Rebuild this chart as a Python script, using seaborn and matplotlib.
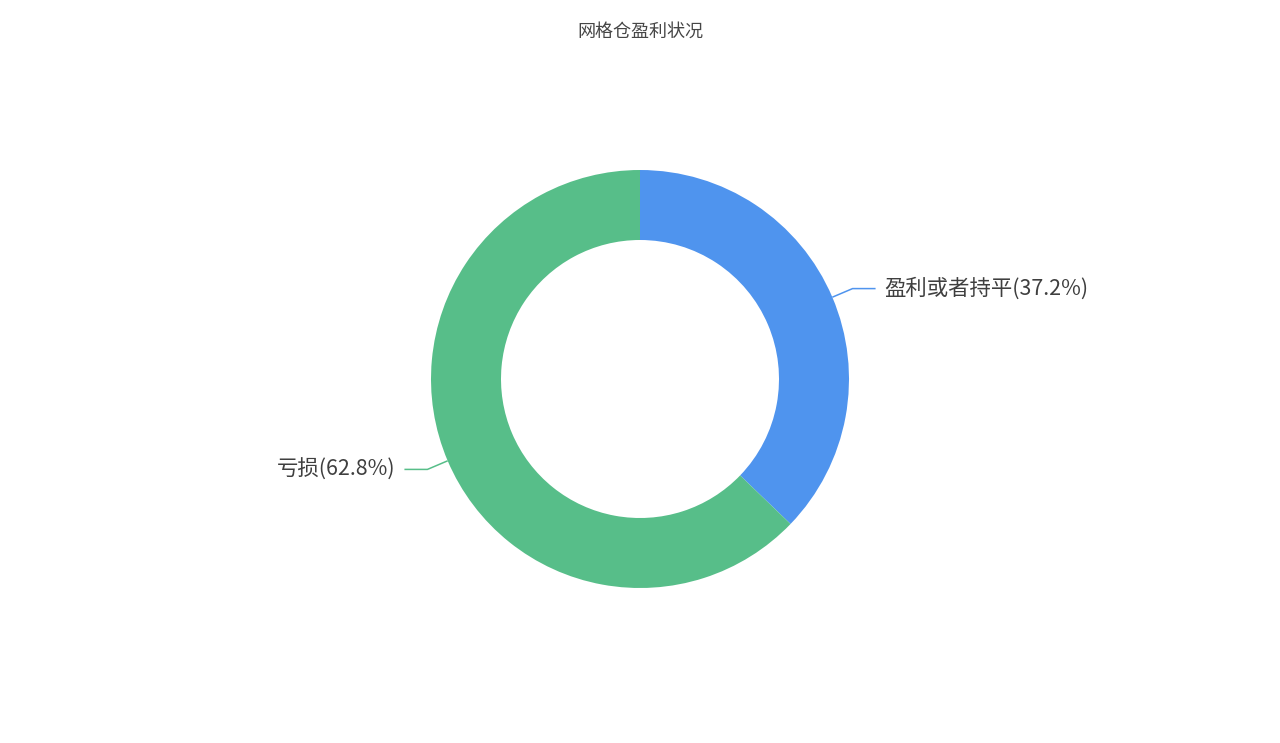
import numpy as np
import matplotlib
matplotlib.use("Agg")
import matplotlib.pyplot as plt
import seaborn as sns

title = '网格仓盈利状况'
categories = ['盈利或者持平', '亏损']
shares = [37.2, 62.8]
colors = ['#4f94ee', '#57be89']

sns.set_theme(style='white')
plt.rcParams['font.family'] = ['Noto Sans CJK SC', 'DejaVu Sans']

W, H = 1280, 743
fig = plt.figure(figsize=(W / 100, H / 100), dpi=100)
ax = fig.add_axes([0, 0, 1, 1])
ax.axis('off')

cx, cy = 640, H - 379
r_out, r_in = 209, 139

wedges, _ = ax.pie(shares, colors=colors, startangle=90, counterclock=False,
                   radius=r_out, center=(cx, cy),
                   wedgeprops=dict(width=r_out - r_in, linewidth=0))
ax.set_xlim(0, W)
ax.set_ylim(0, H)
ax.set_aspect('equal')

# leader lines and labels
for w, name, val, col in zip(wedges, categories, shares, colors):
    ang = np.deg2rad((w.theta1 + w.theta2) / 2)
    x0, y0 = cx + r_out * np.cos(ang), cy + r_out * np.sin(ang)
    x1, y1 = cx + (r_out + 22) * np.cos(ang), cy + (r_out + 22) * np.sin(ang)
    side = 1 if np.cos(ang) >= 0 else -1
    x2 = x1 + side * 23
    ax.plot([x0, x1, x2], [y0, y1, y1], color=col, lw=1.1, solid_capstyle='butt')
    ax.text(x2 + side * 9, y1, f'{name}({val}%)', fontsize=15.4, color='#3f3f3f',
            ha='left' if side > 0 else 'right', va='center')

fig.text(0.5, 1 - 32 / H, title, fontsize=13, color='#464646', ha='center', va='center')

fig.savefig('out.png', dpi=100, facecolor='white')
